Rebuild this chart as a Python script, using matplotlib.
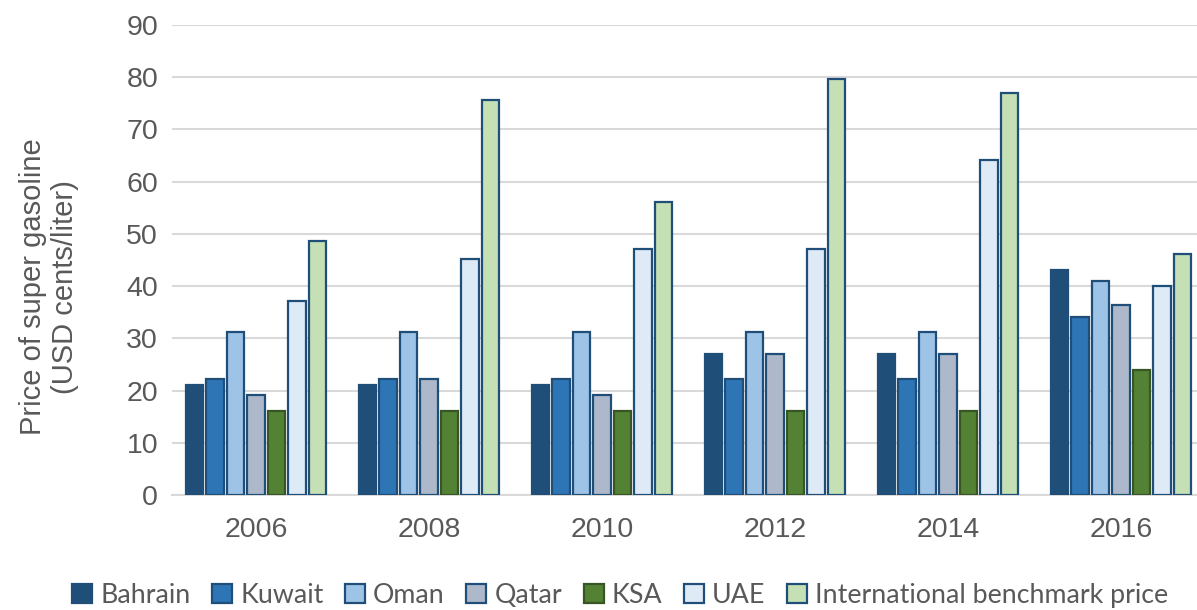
import numpy as np
import matplotlib.pyplot as plt
from matplotlib.patches import Patch

years = ["2006", "2008", "2010", "2012", "2014", "2016"]
series = ["Bahrain", "Kuwait", "Oman", "Qatar", "KSA", "UAE", "International benchmark price"]

bahrain = [21.0, 21.0, 21.0, 27.0, 27.0, 43.1]
kuwait = [22.2, 22.2, 22.2, 22.2, 22.2, 34.1]
oman = [31.2, 31.2, 31.2, 31.2, 31.2, 41.0]
qatar = [19.2, 22.2, 19.2, 27.0, 27.0, 36.3]
ksa = [16.0, 16.0, 16.0, 16.0, 16.0, 24.0]
uae = [37.2, 45.2, 47.2, 47.2, 64.2, 40.1]
intl = [48.6, 75.7, 56.2, 79.6, 77.0, 46.1]

values = [bahrain, kuwait, oman, qatar, ksa, uae, intl]
fills = ["#1F4E79", "#2E75B6", "#9DC3E6", "#ADB9CA", "#548235", "#DEEBF7", "#C5E0B4"]
edges = ["#1F4E79", "#1F4E79", "#1F4E79", "#1F4E79", "#375623", "#1F4E79", "#1F4E79"]

fig = plt.figure(figsize=(11.97, 6.10), dpi=100)
ax = fig.add_axes([0.1437, 0.1885, 0.8563, 0.7705])

x = np.arange(len(years))
step = 0.1185
width = 0.102
for i, vals in enumerate(values):
    ax.bar(x + (i - 3) * step, vals, width, color=fills[i], edgecolor=edges[i],
           linewidth=1.6, zorder=3)

ax.set_ylim(0, 90)
ax.set_xlim(-0.486, 5.44)
ax.set_yticks(range(0, 91, 10))
ax.set_xticks(x)
ax.set_xticklabels(years)
ax.grid(axis="y", color="#D9D9D9", linewidth=1.5, zorder=0)
for s in ["top", "right", "left"]:
    ax.spines[s].set_visible(False)
ax.spines["bottom"].set_color("#D9D9D9")
ax.spines["bottom"].set_linewidth(1.5)
ax.tick_params(axis="both", length=0, colors="#595959", labelsize=20.5, labelfontfamily="Liberation Sans")
ax.tick_params(axis="y", pad=10)
ax.tick_params(axis="x", pad=16)

fig.text(0.041, 0.53, "Price of super gasoline\n(USD cents/liter)", rotation=90,
         ha="center", va="center", fontsize=21, color="#595959",
         family="Liberation Sans", linespacing=1.15)

handles = [Patch(facecolor=fills[i], edgecolor=edges[i], linewidth=1.6) for i in range(len(series))]
fig.legend(handles, series, loc="center", bbox_to_anchor=(0.518, 0.024), ncol=7,
           frameon=False, prop={"family": "Lato", "size": 19.3}, labelcolor="#595959",
           handlelength=0.75, handleheight=0.75, handletextpad=0.3, columnspacing=0.8)

fig.savefig("out.png", dpi=100)
